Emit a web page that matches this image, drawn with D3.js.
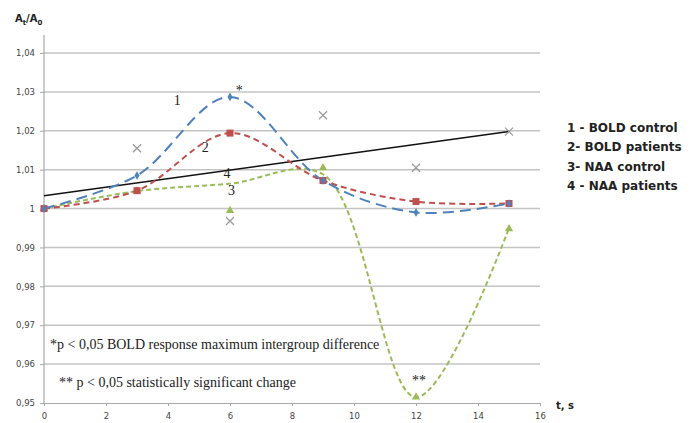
<!DOCTYPE html>
<html>
<head>
<meta charset="utf-8">
<script src="https://cdn.jsdelivr.net/npm/d3@7"></script>
<style>
  body { margin: 0; background: #fff; }
  svg { display: block; }
</style>
</head>
<body>
<div id="chart"></div>
<script>
const width = 692;
const height = 423;
const margin = {top: 53, right: 152, bottom: 20, left: 44};

// Data
const times = [0, 3, 6, 9, 12, 15];
const boldControl = [1.0, 1.0085, 1.0287, 1.0072, 0.9990, 1.0013];
const boldPatients = [1.0, 1.0046, 1.0194, 1.0072, 1.0018, 1.0013];
const naaControlLine = [1.0, 1.0045, 1.0064, 1.0088, 0.9515, 0.9950];
const naaControlPts = [1.0, 1.0045, 0.9995, 1.0105, 0.9515, 0.9948];
const naaPatientsPts = [1.0, 1.0155, 0.9968, 1.0240, 1.0105, 1.0198];
const trendT = [0, 15];
const trendV = [1.0033, 1.0198];

const yTicks = [0.95, 0.96, 0.97, 0.98, 0.99, 1.0, 1.01, 1.02, 1.03, 1.04];
const yTickLabels = ['0,95', '0,96', '0,97', '0,98', '0,99', '1', '1,01', '1,02', '1,03', '1,04'];
const xTicks = [0, 2, 4, 6, 8, 10, 12, 14, 16];

const legendLabels = ['1 - BOLD control', '2- BOLD patients', '3- NAA control', '4 - NAA patients'];

const x = d3.scaleLinear().domain([0, 16]).range([margin.left, width - margin.right]);
const y = d3.scaleLinear().domain([0.95, 1.04]).range([height - margin.bottom, margin.top]);

const svg = d3.select('#chart').append('svg')
  .attr('width', width)
  .attr('height', height);

// Gridlines
svg.append('g')
  .selectAll('line')
  .data(yTicks.slice(1))
  .join('line')
    .attr('x1', x(0))
    .attr('x2', x(16))
    .attr('y1', d => y(d))
    .attr('y2', d => y(d))
    .attr('stroke', '#c4c4c4')
    .attr('stroke-width', 1.5);

// Y axis
const yAxis = svg.append('g')
  .attr('transform', 'translate(' + x(0) + ',0)')
  .call(d3.axisLeft(y).tickValues(yTicks).tickFormat((d, i) => yTickLabels[i]).tickSize(4).tickSizeOuter(0));
yAxis.select('.domain').remove();
yAxis.selectAll('.tick line').attr('stroke', '#a8a8a8');
yAxis.selectAll('.tick text')
  .attr('x', -9)
  .attr('fill', '#444')
  .style('font-family', 'DejaVu Sans, sans-serif')
  .style('font-size', '8.5px');
svg.append('line')
  .attr('x1', x(0)).attr('x2', x(0))
  .attr('y1', 35).attr('y2', y(0.95))
  .attr('stroke', '#a8a8a8').attr('stroke-width', 1.2);

// X axis
const xAxis = svg.append('g')
  .attr('transform', 'translate(0,' + y(0.95) + ')')
  .call(d3.axisBottom(x).tickValues(xTicks).tickSize(3).tickSizeOuter(0));
xAxis.select('.domain').attr('stroke', '#a8a8a8').attr('stroke-width', 1.2);
xAxis.selectAll('.tick line').attr('stroke', '#a8a8a8');
xAxis.selectAll('.tick text')
  .attr('y', 10)
  .attr('fill', '#444')
  .style('font-family', 'DejaVu Sans, sans-serif')
  .style('font-size', '8.5px');

// Axis titles
const yTitle = svg.append('text')
  .attr('x', 15).attr('y', 22)
  .style('font-family', 'DejaVu Sans, sans-serif')
  .style('font-size', '10px')
  .style('font-weight', 'bold')
  .attr('fill', '#222');
yTitle.append('tspan').text('A');
yTitle.append('tspan').attr('dy', 3).style('font-size', '7px').text('t');
yTitle.append('tspan').attr('dy', -3).text('/A');
yTitle.append('tspan').attr('dy', 3).style('font-size', '7px').text('0');

svg.append('text')
  .attr('x', 556).attr('y', 409)
  .style('font-family', 'DejaVu Sans, sans-serif')
  .style('font-size', '10px')
  .style('font-weight', 'bold')
  .attr('fill', '#222')
  .text('t, s');

// Lines
const pts = vals => times.map((t, i) => [t, vals[i]]);
const smooth = d3.line().x(d => x(d[0])).y(d => y(d[1])).curve(d3.curveCatmullRom.alpha(0.5));

// trend line (NAA patients)
svg.append('path')
  .datum(trendT.map((t, i) => [t, trendV[i]]))
  .attr('d', d3.line().x(d => x(d[0])).y(d => y(d[1])))
  .attr('fill', 'none')
  .attr('stroke', '#111')
  .attr('stroke-width', 1.6);

svg.append('path')
  .datum(pts(naaControlLine))
  .attr('d', smooth)
  .attr('fill', 'none')
  .attr('stroke', '#9bbb59')
  .attr('stroke-width', 2)
  .attr('stroke-dasharray', '5,3');

svg.append('path')
  .datum(pts(boldPatients))
  .attr('d', smooth)
  .attr('fill', 'none')
  .attr('stroke', '#c0504d')
  .attr('stroke-width', 2)
  .attr('stroke-dasharray', '6,4');

svg.append('path')
  .datum(pts(boldControl))
  .attr('d', smooth)
  .attr('fill', 'none')
  .attr('stroke', '#4f81bd')
  .attr('stroke-width', 2)
  .attr('stroke-dasharray', '11,6');

// Markers
svg.append('g')
  .selectAll('path')
  .data(pts(naaPatientsPts).slice(1))
  .join('path')
    .attr('transform', d => 'translate(' + x(d[0]) + ',' + y(d[1]) + ')')
    .attr('d', 'M-4,-4L4,4M-4,4L4,-4')
    .attr('stroke', '#9a9a9a')
    .attr('stroke-width', 1.2);

svg.append('g')
  .selectAll('path')
  .data(pts(naaControlPts))
  .join('path')
    .attr('transform', d => 'translate(' + x(d[0]) + ',' + y(d[1]) + ')')
    .attr('d', d3.symbol(d3.symbolTriangle, 30))
    .attr('fill', '#9bbb59');

svg.append('g')
  .selectAll('rect')
  .data(pts(boldPatients))
  .join('rect')
    .attr('x', d => x(d[0]) - 3.5)
    .attr('y', d => y(d[1]) - 3.5)
    .attr('width', 7)
    .attr('height', 7)
    .attr('fill', '#c0504d');

svg.append('g')
  .selectAll('path')
  .data(pts(boldControl))
  .join('path')
    .attr('transform', d => 'translate(' + x(d[0]) + ',' + y(d[1]) + ')')
    .attr('d', d3.symbol(d3.symbolDiamond, 22))
    .attr('fill', '#4f81bd');

// Curve labels
const serif = 'Liberation Serif, Times New Roman, serif';
const curveLabels = [
  {t: 4.3, v: 1.0266, s: '1'},
  {t: 5.2, v: 1.0146, s: '2'},
  {t: 6.05, v: 1.0034, s: '3'},
  {t: 5.9, v: 1.0078, s: '4'},
  {t: 6.3, v: 1.0293, s: '*'},
  {t: 12.1, v: 0.9547, s: '**'}
];
svg.append('g')
  .selectAll('text')
  .data(curveLabels)
  .join('text')
    .attr('x', d => x(d.t))
    .attr('y', d => y(d.v))
    .attr('text-anchor', 'middle')
    .style('font-family', serif)
    .style('font-size', '14px')
    .attr('fill', '#222')
    .text(d => d.s);

// Footnotes
svg.append('text')
  .attr('x', 50).attr('y', 349)
  .style('font-family', serif)
  .style('font-size', '14px')
  .attr('fill', '#222')
  .text('*p < 0,05 BOLD response maximum intergroup difference');
svg.append('text')
  .attr('x', 59).attr('y', 387)
  .style('font-family', serif)
  .style('font-size', '14px')
  .attr('fill', '#222')
  .text('** p < 0,05 statistically significant change');

// Legend
svg.append('g')
  .selectAll('text')
  .data(legendLabels)
  .join('text')
    .attr('x', 567)
    .attr('y', (d, i) => 132 + i * 19.3)
    .style('font-family', 'DejaVu Sans, sans-serif')
    .style('font-size', '12px')
    .style('font-weight', 'bold')
    .attr('fill', '#222')
    .text(d => d);
</script>
</body>
</html>
